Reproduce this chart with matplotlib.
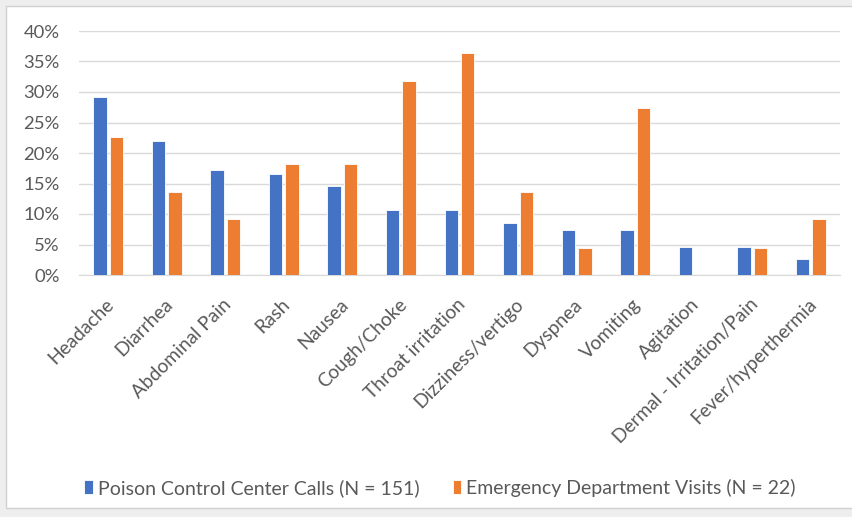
import matplotlib.pyplot as plt
from matplotlib.patches import Rectangle
from matplotlib.ticker import PercentFormatter
import numpy as np

plt.rcParams['font.family'] = ['Lato', 'DejaVu Sans']

categories = ['Headache', 'Diarrhea', 'Abdominal Pain', 'Rash', 'Nausea', 'Cough/Choke',
              'Throat irritation', 'Dizziness/vertigo', 'Dyspnea', 'Vomiting', 'Agitation',
              'Dermal - Irritation/Pain', 'Fever/hyperthermia']
# share of cases (fractions)
poison_calls = [0.291, 0.219, 0.172, 0.166, 0.146, 0.106, 0.106, 0.086, 0.073, 0.073, 0.046, 0.046, 0.026]
ed_visits = [0.227, 0.136, 0.091, 0.182, 0.182, 0.318, 0.364, 0.136, 0.045, 0.273, 0.0, 0.045, 0.091]
series_names = ['Poison Control Center Calls (N = 151)', 'Emergency Department Visits (N = 22)']

blue = '#4472C4'
orange = '#ED7D31'
grey_txt = '#595959'

fig = plt.figure(figsize=(8.52, 5.17), dpi=100)
fig.patch.set_facecolor('#eeeeee')
# white chart area with thin border
fig.patches.append(Rectangle((6/852, 9/517), 1, 1 - 15/517, transform=fig.transFigure,
                             facecolor='white', edgecolor='#d0d0d0', lw=1, zorder=-1))

ax = fig.add_axes([79/852, 1 - 275/517, 761/852, 244/517])
x = np.arange(len(categories))
w = 0.23
ax.bar(x - w/2 - 0.025, poison_calls, w, color=blue, edgecolor='white', lw=0.6,
       label=series_names[0], zorder=3)
ax.bar(x + w/2 + 0.025, ed_visits, w, color=orange, edgecolor='white', lw=0.6,
       label=series_names[1], zorder=3)

ax.set_xlim(-0.5, len(categories) - 0.5)
ax.set_ylim(0, 0.40)
ax.set_yticks(np.arange(0, 0.41, 0.05))
ax.yaxis.set_major_formatter(PercentFormatter(1.0, decimals=0))
ax.grid(axis='y', color='#d9d9d9', lw=1, zorder=0)
for s in ['top', 'right', 'left']:
    ax.spines[s].set_visible(False)
ax.spines['bottom'].set_color('#d9d9d9')
ax.set_facecolor('white')
ax.tick_params(axis='both', length=0, colors=grey_txt)
ax.tick_params(axis='y', pad=14, labelsize=13.3)
ax.tick_params(axis='x', pad=15, labelsize=13.8)
ax.set_xticks(x - 0.05)
ax.set_xticklabels(categories, rotation=45, ha='right', rotation_mode='anchor')

fig.legend(loc='center', bbox_to_anchor=(440/852, 1 - 488/517), ncol=2, frameon=False,
           fontsize=14, handlelength=0.45, handleheight=0.7, handletextpad=0.25,
           columnspacing=1.7, labelcolor=grey_txt)

fig.savefig('out.png', dpi=100)
